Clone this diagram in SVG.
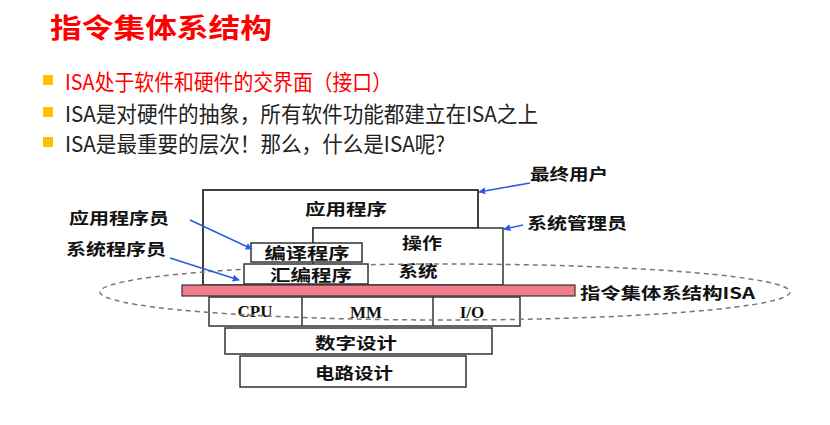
<svg xmlns="http://www.w3.org/2000/svg" width="830" height="425" viewBox="0 0 830 425">
<style>
.cjk{font-family:"Noto Sans CJK SC","Noto Sans",sans-serif}
.box{fill:#fff;stroke:#333;stroke-width:1.5}
.lbl{font-family:"Noto Sans CJK SC",sans-serif;font-weight:700;font-size:16px;fill:#111;text-anchor:middle;dominant-baseline:central}
.lat{font-family:"Liberation Serif",serif;font-weight:700;font-size:17px;fill:#111;text-anchor:middle;dominant-baseline:central}
.bt{font-family:"Noto Sans CJK SC",sans-serif;font-size:21.5px;dominant-baseline:central}
.bul{fill:#FFC000}
.arr{stroke:#2A5BE8;stroke-width:1.5;fill:none;marker-end:url(#ah)}
</style>
<defs>
<marker id="ah" viewBox="0 0 10 10" refX="9" refY="5" markerWidth="7" markerHeight="7" orient="auto" markerUnits="userSpaceOnUse">
<path d="M0,0 L10,5 L0,10 z" fill="#2A5BE8"/>
</marker>
</defs>
<rect width="830" height="425" fill="#fff"/>
<g id="title">
<text x="50" y="26" class="cjk" font-size="27" font-weight="700" fill="#FF0000" dominant-baseline="central" textLength="222" lengthAdjust="spacingAndGlyphs">指令集体系结构</text>
</g>
<g id="bullets">
<rect class="bul" x="43" y="75" width="10" height="10"/>
<text class="bt" x="65" y="80" fill="#FF0000" textLength="327" lengthAdjust="spacingAndGlyphs">ISA处于软件和硬件的交界面（接口）</text>
<rect class="bul" x="43" y="107" width="10" height="10"/>
<text class="bt" x="65" y="112" fill="#222" textLength="473" lengthAdjust="spacingAndGlyphs">ISA是对硬件的抽象，所有软件功能都建立在ISA之上</text>
<rect class="bul" x="43" y="137" width="10" height="10"/>
<text class="bt" x="65" y="142" fill="#222" textLength="380" lengthAdjust="spacingAndGlyphs">ISA是最重要的层次！那么，什么是ISA呢?</text>
</g>
<g id="app">
<path class="box" d="M203,285 V190 H478 V228 H313 V285 Z" stroke="none"/>
<path d="M203,285 V190 H478 V228" fill="none" stroke="#333" stroke-width="1.5"/>
<text class="lbl" x="346" y="208" textLength="82" lengthAdjust="spacingAndGlyphs">应用程序</text>
</g>
<g id="os">
<rect class="box" x="313" y="228" width="190" height="57"/>
<text class="lbl" x="422" y="242" textLength="40" lengthAdjust="spacingAndGlyphs">操作</text>
<text class="lbl" x="418" y="270" textLength="39" lengthAdjust="spacingAndGlyphs">系统</text>
</g>
<g id="hw">
<rect class="box" x="209" y="297" width="311" height="29"/>
<line x1="302" y1="297" x2="302" y2="326" stroke="#333" stroke-width="1.5"/>
<line x1="433" y1="297" x2="433" y2="326" stroke="#333" stroke-width="1.5"/>
<text class="lat" x="255" y="311">CPU</text>
<text class="lat" x="366" y="312">MM</text>
<text class="lat" x="472" y="312">I/O</text>
</g>
<g id="isa-ring">
<ellipse cx="445" cy="292" rx="345" ry="28" fill="none" stroke="#777" stroke-width="1.5" stroke-dasharray="5,4"/>
</g>
<g id="compiler">
<rect class="box" x="251" y="243" width="111" height="19"/>
<text class="lbl" x="307" y="252" textLength="85" lengthAdjust="spacingAndGlyphs">编译程序</text>
</g>
<g id="assembler">
<rect class="box" x="244" y="264" width="124" height="20"/>
<text class="lbl" x="311" y="274" textLength="82" lengthAdjust="spacingAndGlyphs">汇编程序</text>
</g>
<g id="isa">
<rect x="182" y="285" width="393" height="11" fill="#F07C8C" stroke="#333" stroke-width="1.2"/>
<text class="lbl" x="580" y="292" style="text-anchor:start" textLength="175" lengthAdjust="spacingAndGlyphs">指令集体系结构ISA</text>
</g>
<g id="digital">
<rect class="box" x="225" y="328" width="267" height="26"/>
<text class="lbl" x="356" y="342" textLength="82" lengthAdjust="spacingAndGlyphs">数字设计</text>
</g>
<g id="circuit">
<rect class="box" x="240" y="356" width="226" height="31"/>
<text class="lbl" x="354" y="372" textLength="78" lengthAdjust="spacingAndGlyphs">电路设计</text>
</g>
<g id="end-user">
<text class="lbl" x="530" y="173" style="text-anchor:start" textLength="78" lengthAdjust="spacingAndGlyphs">最终用户</text>
</g>
<g id="sysadmin">
<text class="lbl" x="527" y="222" style="text-anchor:start" textLength="100" lengthAdjust="spacingAndGlyphs">系统管理员</text>
</g>
<g id="app-programmer">
<text class="lbl" x="69" y="217" style="text-anchor:start" textLength="100" lengthAdjust="spacingAndGlyphs">应用程序员</text>
</g>
<g id="sys-programmer">
<text class="lbl" x="66" y="248" style="text-anchor:start" textLength="100" lengthAdjust="spacingAndGlyphs">系统程序员</text>
</g>
<g id="connectors">
<line class="arr" x1="530" y1="183" x2="479" y2="192"/>
<line class="arr" x1="523" y1="225" x2="504" y2="229"/>
<line class="arr" x1="190" y1="220" x2="252" y2="249"/>
<line class="arr" x1="170" y1="258" x2="239" y2="280"/>
</g>
</svg>
